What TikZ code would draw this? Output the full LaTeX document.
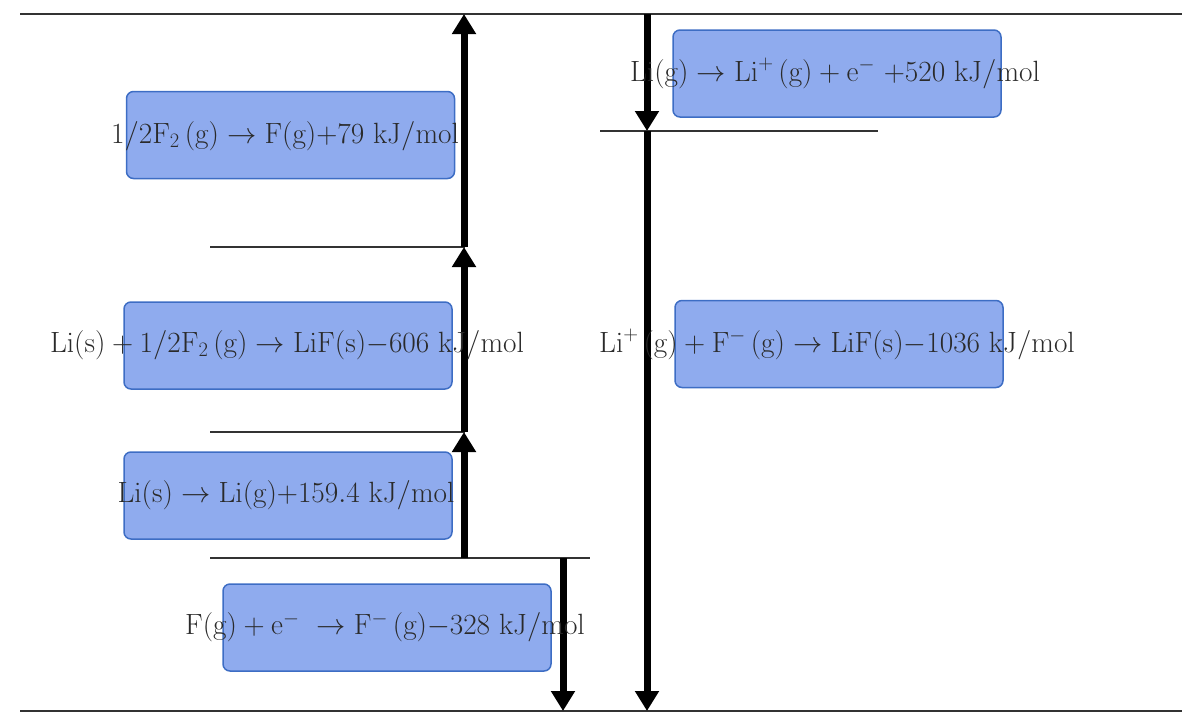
\documentclass[tikz,border=0pt]{standalone}
\usepackage{fix-cm}
\usetikzlibrary{arrows.meta}
\definecolor{boxfill}{HTML}{8FABEE}
\definecolor{boxdraw}{HTML}{3D6DC4}
\definecolor{ink}{HTML}{2A2A2A}
\definecolor{lineink}{HTML}{333333}
\begin{document}
\begin{tikzpicture}[x=1pt,y=-1pt,
  box/.style={draw=boxdraw, fill=boxfill, line width=1.5pt, rounded corners=7pt,
    minimum width=328pt, minimum height=87pt, inner sep=0pt},
  eq/.style={text=ink, font=\fontsize{29.3}{34}\selectfont, inner sep=0pt},
  level/.style={draw=lineink, line width=2.2pt},
  bigarrow/.style={line width=7pt, -{Triangle[length=20pt,width=23pt]}}
]
\useasboundingbox (0,0) rectangle (1200,713);

% level coordinates
\coordinate (tl) at (20,14);   \coordinate (tr) at (1182,14);
\coordinate (bl) at (20,711);  \coordinate (br) at (1182,711);
\coordinate (l1a) at (600,131); \coordinate (l1b) at (878,131);
\coordinate (l2a) at (210,247); \coordinate (l2b) at (465,247);
\coordinate (l3a) at (210,432); \coordinate (l3b) at (465,432);
\coordinate (l4a) at (210,558); \coordinate (l4b) at (590,558);

% arrow coordinates
\coordinate (u0) at (464,558); \coordinate (u1) at (464,432);
\coordinate (u2) at (464,247); \coordinate (u3) at (464,14);
\coordinate (d0) at (647,14);  \coordinate (d1) at (647,131);
\coordinate (d2) at (647,711);
\coordinate (f0) at (563,558); \coordinate (f1) at (563,711);

% level lines
\draw[level] (tl) -- (tr);
\draw[level] (bl) -- (br);
\draw[level] (l1a) -- (l1b);
\draw[level] (l2a) -- (l2b);
\draw[level] (l3a) -- (l3b);
\draw[level] (l4a) -- (l4b);

% arrows
\draw[bigarrow] (u0) -- (u1);
\draw[bigarrow] (u1) -- (u2);
\draw[bigarrow] (u2) -- (u3);
\draw[bigarrow] (d0) -- (d1);
\draw[bigarrow] (d1) -- (d2);
\draw[bigarrow] (f0) -- (f1);

% boxes
\node[box] (b1) at (290.5,135) {};
\node[box] (b2) at (837,73.5) {};
\node[box] (b3) at (288,345.5) {};
\node[box] (b4) at (839,344) {};
\node[box] (b5) at (288,495.5) {};
\node[box] (b6) at (387,627.5) {};

% equations
\node[eq] (t1) at (285,136) {$1/2\mathrm{F}_2\,(\mathrm{g})\rightarrow\mathrm{F(g)}{+}79\ \mathrm{kJ/mol}$};
\node[eq] (t2) at (835,73) {$\mathrm{Li(g)}\rightarrow\mathrm{Li}^{+}\,(\mathrm{g})+\mathrm{e}^{-}\ {+}520\ \mathrm{kJ/mol}$};
\node[eq] (t3) at (287,345) {$\mathrm{Li(s)}+1/2\mathrm{F}_2\,(\mathrm{g})\rightarrow\mathrm{LiF(s)}{-}606\ \mathrm{kJ/mol}$};
\node[eq] (t4) at (837,344) {$\mathrm{Li}^{+}\,(\mathrm{g})+\mathrm{F}^{-}\,(\mathrm{g})\rightarrow\mathrm{LiF(s)}{-}1036\ \mathrm{kJ/mol}$};
\node[eq] (t5) at (286,495) {$\mathrm{Li(s)}\rightarrow\mathrm{Li(g)}{+}159.4\ \mathrm{kJ/mol}$};
\node[eq] (t6) at (385,627) {$\mathrm{F(g)}+\mathrm{e}^{-}\ \rightarrow\mathrm{F}^{-}\,(\mathrm{g}){-}328\ \mathrm{kJ/mol}$};
\end{tikzpicture}
\end{document}
